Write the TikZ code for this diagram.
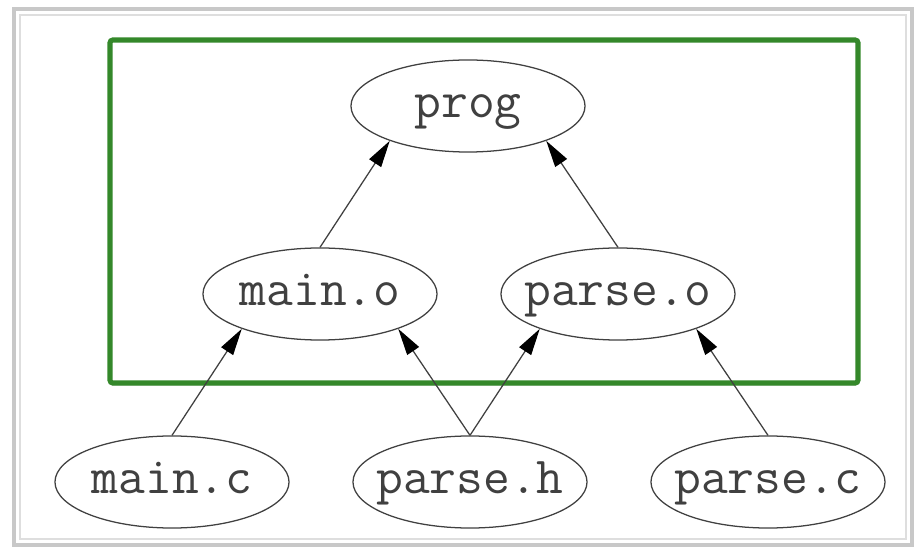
\documentclass[tikz,border=0pt]{standalone}
\usetikzlibrary{arrows.meta,shapes.geometric,shadows}

\definecolor{boxgreen}{RGB}{52,136,42}
\definecolor{framegray}{RGB}{200,200,200}

\begin{document}
\begin{tikzpicture}[x=0.025cm, y=-0.025cm,
    file/.style={draw=black!75, line width=0.9pt, ellipse, fill=white,
                 minimum width=5.85cm, minimum height=2.3cm,
                 inner xsep=-20pt, inner ysep=0pt,
                 text height=16pt, text depth=0pt,
                 font=\ttfamily\fontsize{37}{44}\selectfont, text=black!75},
    dep/.style={draw=black!75, line width=0.9pt,
                -{Triangle[length=19pt,width=10pt,color=black,fill=black]}}]
      \useasboundingbox (0, 0) rectangle (916, 550);
      % outer frame
      \draw[framegray, line width=3pt] (14, 9) rectangle (912, 545);
      \draw[framegray!60, line width=1pt] (20, 15) rectangle (906, 539);
      % build products
      \draw[boxgreen, fill=white, line width=3.6pt, rounded corners=2pt,
            drop shadow={opacity=0.25, shadow xshift=0pt, shadow yshift=-2pt}]
            (110, 40) rectangle (858, 383);
      \node (prog)   [file] at (468, 106) {prog};
      \node (maino)  [file] at (320, 294) {main.o};
      \node (parseo) [file] at (618, 294) {parse.o};
      \node (mainc)  [file] at (172, 482) {main.c};
      \node (parseh) [file] at (470, 482) {parse.h};
      \node (parsec) [file] at (768, 482) {parse.c};
      % dependencies
      \draw[dep] (maino.north)  -- (prog.204);
      \draw[dep] (parseo.north) -- (prog.336);
      \draw[dep] (mainc.north)  -- (maino.204);
      \draw[dep] (parseh.north) -- (maino.336);
      \draw[dep] (parseh.north) -- (parseo.204);
      \draw[dep] (parsec.north) -- (parseo.336);
\end{tikzpicture}
\end{document}
